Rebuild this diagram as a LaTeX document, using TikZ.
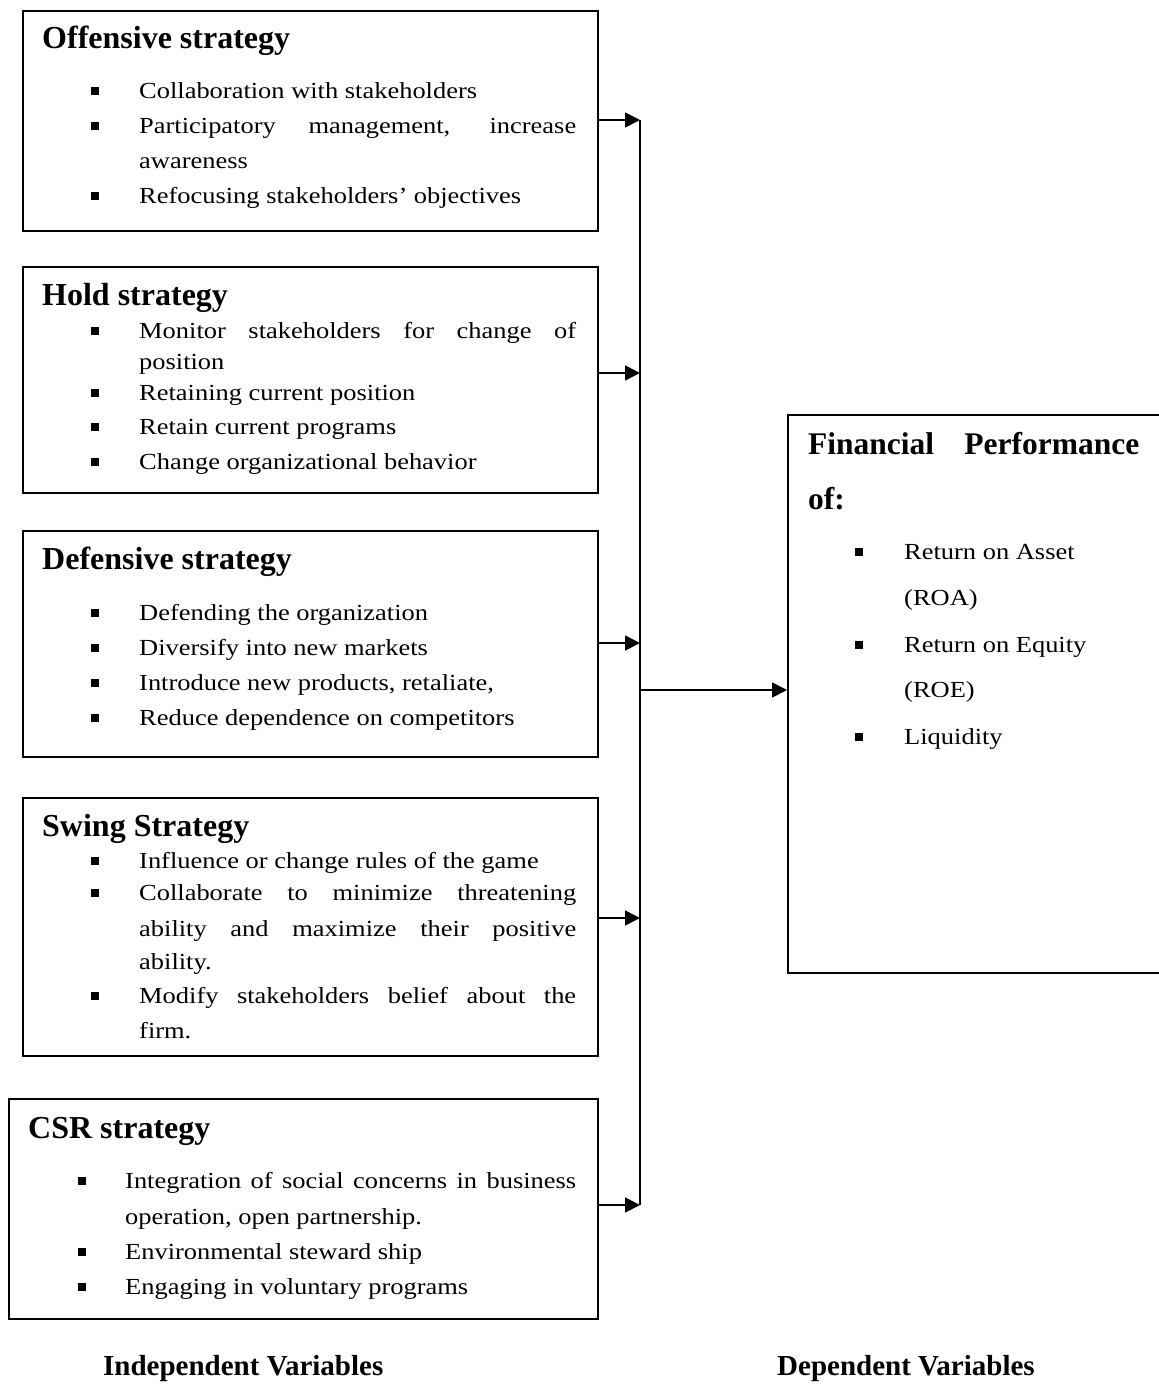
\documentclass[tikz,border=0pt]{standalone}
\usepackage{fontspec}
\setmainfont{Liberation Serif}
\newfontfamily\bodyf{Liberation Serif}[FakeStretch=1.15]
\usetikzlibrary{arrows.meta}
\newcommand\bodyfnt{\bodyf\fontsize{23}{28}\selectfont}
\newcommand\headfnt{\fontsize{32}{36}\selectfont\bfseries}
\newcommand\finfnt{\fontsize{31.5}{36}\selectfont\bfseries}
\newcommand\labfnt{\fontsize{29}{34}\selectfont\bfseries}
\tikzset{
  box/.style={draw, line width=1.6pt, rectangle, inner sep=0pt, anchor=north west},
  txt/.style={anchor=base west, inner sep=0pt, font=\bodyfnt},
  head/.style={anchor=base west, inner sep=0pt, font=\headfnt},
  lab/.style={anchor=base west, inner sep=0pt, font=\labfnt},
  bul/.style={fill, rectangle, minimum size=8pt, inner sep=0pt},
  lin/.style={line width=1.6pt},
  arr/.style={line width=1.6pt, -{Triangle[length=15pt,width=15pt]}}
}
\begin{document}
\begin{tikzpicture}[x=1pt,y=-1pt]
\clip (0,0) rectangle (1159,1390);
% boxes
\node[box, minimum width=575pt, minimum height=220pt] (b1) at (22,10) {};
\node[box, minimum width=575pt, minimum height=226pt] (b2) at (22,266) {};
\node[box, minimum width=575pt, minimum height=226pt] (b3) at (22,530) {};
\node[box, minimum width=575pt, minimum height=258pt] (b4) at (22,797) {};
\node[box, minimum width=589pt, minimum height=220pt] (b5) at (8,1098) {};
\node[box, minimum width=420pt, minimum height=558pt] (fin) at (787,414) {};
% box 1
\node[head] (h1) at (42,48) {Offensive strategy};
\node[bul] (p11) at (95,91) {};
\node[txt] (t11) at (139,98) {Collaboration with stakeholders};
\node[bul] (p12) at (95,126) {};
\node[txt] (t12) at (139,133) {\makebox[437pt][s]{Participatory management, increase}};
\node[txt] (t13) at (139,168) {awareness};
\node[bul] (p14) at (95,196) {};
\node[txt] (t14) at (139,203) {Refocusing stakeholders’ objectives};
% box 2
\node[head] (h2) at (42,305) {Hold strategy};
\node[bul] (p21) at (95,331) {};
\node[txt] (t21) at (139,338) {\makebox[437pt][s]{Monitor stakeholders for change of}};
\node[txt] (t22) at (139,369) {position};
\node[bul] (p23) at (95,393) {};
\node[txt] (t23) at (139,400) {Retaining current position};
\node[bul] (p24) at (95,427) {};
\node[txt] (t24) at (139,434) {Retain current programs};
\node[bul] (p25) at (95,462) {};
\node[txt] (t25) at (139,469) {Change organizational behavior};
% box 3
\node[head] (h3) at (42,569) {Defensive strategy};
\node[bul] (p31) at (95,613) {};
\node[txt] (t31) at (139,620) {Defending the organization};
\node[bul] (p32) at (95,648) {};
\node[txt] (t32) at (139,655) {Diversify into new markets};
\node[bul] (p33) at (95,683) {};
\node[txt] (t33) at (139,690) {Introduce new products, retaliate,};
\node[bul] (p34) at (95,718) {};
\node[txt] (t34) at (139,725) {Reduce dependence on competitors};
% box 4
\node[head] (h4) at (42,836) {Swing Strategy};
\node[bul] (p41) at (95,861) {};
\node[txt] (t41) at (139,868) {Influence or change rules of the game};
\node[bul] (p42) at (95,893) {};
\node[txt] (t42) at (139,900) {\makebox[437pt][s]{Collaborate to minimize threatening}};
\node[txt] (t43) at (139,936) {\makebox[437pt][s]{ability and maximize their positive}};
\node[txt] (t44) at (139,969) {ability.};
\node[bul] (p45) at (95,996) {};
\node[txt] (t45) at (139,1003) {\makebox[437pt][s]{Modify stakeholders belief about the}};
\node[txt] (t46) at (139,1038) {firm.};
% box 5
\node[head] (h5) at (28,1138) {CSR strategy};
\node[bul] (p51) at (82,1181) {};
\node[txt] (t51) at (125,1188) {\makebox[451pt][s]{Integration of social concerns in business}};
\node[txt] (t52) at (125,1224) {operation, open partnership.};
\node[bul] (p53) at (82,1252) {};
\node[txt] (t53) at (125,1259) {Environmental steward ship};
\node[bul] (p54) at (82,1287) {};
\node[txt] (t54) at (125,1294) {Engaging in voluntary programs};
% right box
\node[anchor=base west, inner sep=0pt, font=\finfnt] (fh1) at (808,454) {\makebox[331pt][s]{Financial Performance}};
\node[anchor=base west, inner sep=0pt, font=\finfnt] (fh2) at (808,509) {of:};
\node[bul] (q1) at (859,552) {};
\node[txt] (f1) at (904,559) {Return on Asset};
\node[txt] (f2) at (904,605) {(ROA)};
\node[bul] (q3) at (859,645) {};
\node[txt] (f3) at (904,652) {Return on Equity};
\node[txt] (f4) at (904,697) {(ROE)};
\node[bul] (q5) at (859,737) {};
\node[txt] (f5) at (904,744) {Liquidity};
% labels
\node[lab] (l1) at (103,1375) {Independent Variables};
\node[lab] (l2) at (777,1375) {Dependent Variables};
% connectors
\coordinate (j1) at (640,120);
\coordinate (j2) at (640,373);
\coordinate (j3) at (640,643);
\coordinate (j4) at (640,918);
\coordinate (j5) at (640,1205);
\coordinate (jm) at (640,690);
\draw[lin] (j1) -- (j5);
\draw[arr] (b1.east |- j1) -- (j1);
\draw[arr] (b2.east |- j2) -- (j2);
\draw[arr] (b3.east |- j3) -- (j3);
\draw[arr] (b4.east |- j4) -- (j4);
\draw[arr] (b5.east |- j5) -- (j5);
\draw[arr] (jm) -- (fin.west |- jm);
\end{tikzpicture}
\end{document}
